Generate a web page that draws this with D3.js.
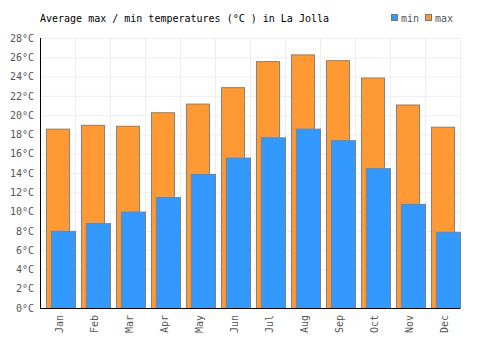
<!DOCTYPE html>
<html>
<head>
<meta charset="utf-8">
<script src="https://cdn.jsdelivr.net/npm/d3@7"></script>
<style>
  body { margin: 0; background: #fff; }
  svg text { font-family: "DejaVu Sans Mono", "Liberation Mono", monospace; }
</style>
</head>
<body>
<svg id="chart" width="500" height="350"></svg>
<script>
const months = ["Jan", "Feb", "Mar", "Apr", "May", "Jun", "Jul", "Aug", "Sep", "Oct", "Nov", "Dec"];
const maxTemps = [18.6, 19.0, 18.9, 20.3, 21.2, 22.9, 25.6, 26.3, 25.7, 23.9, 21.1, 18.8];
const minTemps = [8.0, 8.8, 10.0, 11.5, 13.9, 15.6, 17.7, 18.6, 17.4, 14.5, 10.8, 7.9];
const yTicks = d3.range(0, 29, 2);

var margin = { top: 38, right: 40, bottom: 42, left: 40 },
  width = 500 - margin.left - margin.right,
  height = 350 - margin.top - margin.bottom;

const svg = d3.select("#chart");
const g = svg.append("g").attr("transform", `translate(${margin.left},${margin.top})`);

var xScale = d3.scaleBand().domain(months).range([0, width]);
var yScale = d3.scaleLinear().domain([0, 28]).range([height, 0]);

// grid
g.append("g")
  .selectAll("line")
  .data(yTicks)
  .join("line")
  .attr("x1", 0)
  .attr("x2", width)
  .attr("y1", (d) => yScale(d) + 0.5)
  .attr("y2", (d) => yScale(d) + 0.5)
  .attr("stroke", "#eeeeee");

g.append("g")
  .selectAll("line")
  .data(months)
  .join("line")
  .attr("x1", (d) => xScale(d) + xScale.bandwidth() + 0.5)
  .attr("x2", (d) => xScale(d) + xScale.bandwidth() + 0.5)
  .attr("y1", 0)
  .attr("y2", height)
  .attr("stroke", "#eeeeee");

const bw = xScale.bandwidth();

// max bars (behind)
g.append("g")
  .selectAll("rect")
  .data(months)
  .join("rect")
  .attr("x", (d) => xScale(d) + bw * 0.17 + 0.5)
  .attr("y", (d, i) => yScale(maxTemps[i]) + 0.5)
  .attr("width", bw * 0.66)
  .attr("height", (d, i) => height - yScale(maxTemps[i]))
  .attr("fill", "#ff9933")
  .attr("stroke", "#808080")
  .attr("stroke-width", 1);

// min bars (front)
g.append("g")
  .selectAll("rect")
  .data(months)
  .join("rect")
  .attr("x", (d) => xScale(d) + bw * 0.31 + 0.5)
  .attr("y", (d, i) => yScale(minTemps[i]) + 0.5)
  .attr("width", bw * 0.69)
  .attr("height", (d, i) => height - yScale(minTemps[i]))
  .attr("fill", "#3399ff")
  .attr("stroke", "#808080")
  .attr("stroke-width", 1);

// axes
var yAxis = d3.axisLeft(yScale).tickValues(yTicks).tickSize(0).tickPadding(6).tickFormat((d) => d + "°C");
var yG = g.append("g").call(yAxis);
yG.select(".domain").remove();
yG.selectAll("text").attr("fill", "#555").style("font-size", "10px");

var xAxis = d3.axisBottom(xScale).tickSize(0);
var xG = g.append("g").attr("transform", `translate(0,${height})`).call(xAxis);
xG.select(".domain").remove();
xG.selectAll("text")
  .attr("fill", "#555")
  .style("font-size", "10px")
  .attr("transform", "rotate(-90)")
  .attr("x", -7)
  .attr("y", 2)
  .attr("dy", "0.35em")
  .style("text-anchor", "end");

g.append("line").attr("x1", 0.5).attr("x2", 0.5).attr("y1", 0).attr("y2", height + 0.5).attr("stroke", "#000");
g.append("line").attr("x1", 0).attr("x2", width).attr("y1", height + 0.5).attr("y2", height + 0.5).attr("stroke", "#000");

// title
svg.append("text")
  .attr("x", 40)
  .attr("y", 22)
  .style("font-size", "10px")
  .attr("fill", "#000")
  .text("Average max / min temperatures (°C ) in La Jolla");

// legend
const legend = [
  { name: "min", color: "#3399ff", x: 391 },
  { name: "max", color: "#ff9933", x: 425 },
];
const lg = svg.append("g").selectAll("g").data(legend).join("g");
lg.append("rect")
  .attr("x", (d) => d.x + 0.5)
  .attr("y", 14.5)
  .attr("width", 6)
  .attr("height", 6)
  .attr("fill", (d) => d.color)
  .attr("stroke", "#777");
lg.append("text")
  .attr("x", (d) => d.x + 10)
  .attr("y", 22)
  .style("font-size", "10px")
  .attr("fill", "#555")
  .text((d) => d.name);
</script>
</body>
</html>
